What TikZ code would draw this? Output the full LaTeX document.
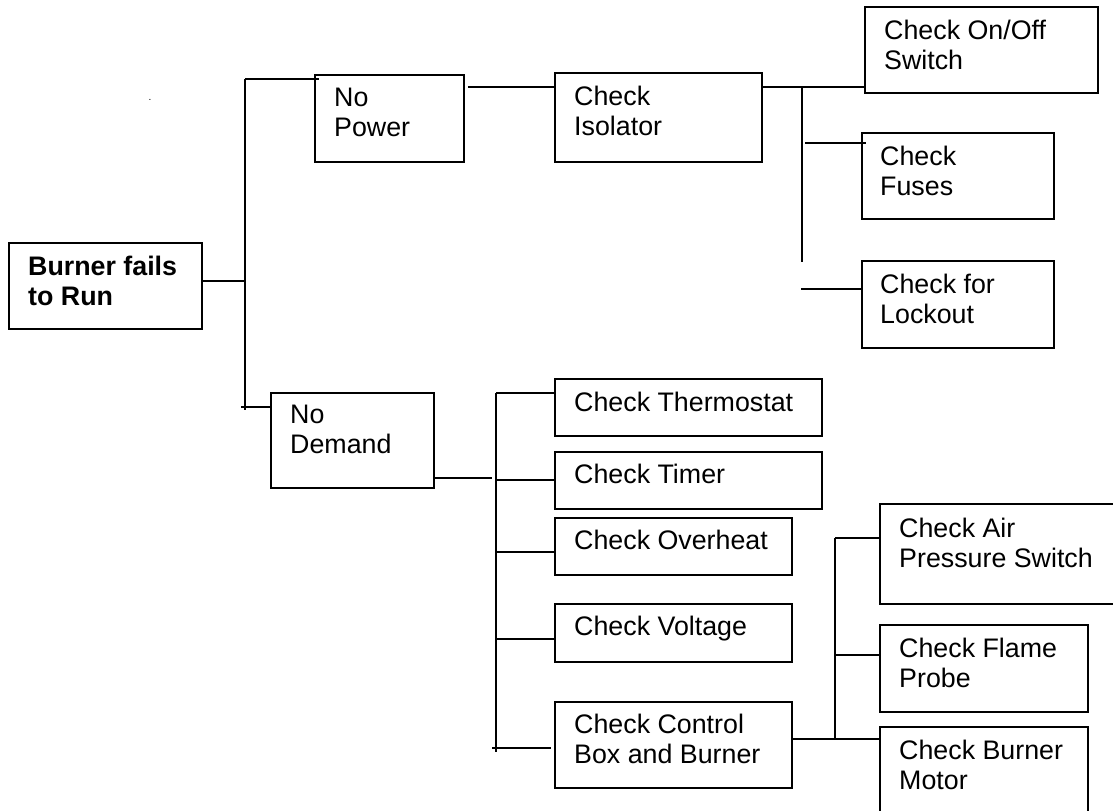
\documentclass[tikz,border=0pt]{standalone}
\usepackage{fontspec}
\setmainfont{Liberation Sans}
\usetikzlibrary{calc}
\begin{document}
\begin{tikzpicture}[x=1bp,y=-1bp,
  box/.style={draw, line width=1.8bp, rectangle, inner sep=0pt, anchor=north west},
  conn/.style={line width=1.6bp},
  txt/.style={font=\fontsize{26.8bp}{30.5bp}\selectfont, align=left, inner sep=0pt, anchor=north west}]
\useasboundingbox (0,0) rectangle (1113,811);

% boxes
\node[box, minimum width=193bp, minimum height=86bp] (burner)   at (8,242)   {};
\node[box, minimum width=149bp, minimum height=87bp] (nopower)  at (314,74)  {};
\node[box, minimum width=207bp, minimum height=89bp] (iso)      at (554,72)  {};
\node[box, minimum width=233bp, minimum height=86bp] (onoff)    at (864,6)   {};
\node[box, minimum width=192bp, minimum height=86bp] (fuses)    at (861,132) {};
\node[box, minimum width=192bp, minimum height=87bp] (lockout)  at (861,260) {};
\node[box, minimum width=163bp, minimum height=95bp] (nodemand) at (270,392) {};
\node[box, minimum width=267bp, minimum height=57bp] (thermo)   at (554,378) {};
\node[box, minimum width=267bp, minimum height=57bp] (timer)    at (554,451) {};
\node[box, minimum width=237bp, minimum height=57bp] (overheat) at (554,517) {};
\node[box, minimum width=237bp, minimum height=58bp] (voltage)  at (554,603) {};
\node[box, minimum width=237bp, minimum height=86bp] (control)  at (554,701) {};
\node[box, minimum width=240bp, minimum height=100bp] (air)     at (879,503) {};
\node[box, minimum width=208bp, minimum height=87bp] (flame)    at (879,624) {};
\node[box, minimum width=208bp, minimum height=100bp] (motor)   at (879,726) {};

% texts
\node[txt] (burnerT)   at (28,255.5)  {\bfseries Burner fails\\\bfseries to Run};
\node[txt] (nopowerT)  at (334,87.5)  {No\\Power};
\node[txt] (isoT)      at (574,85.5)  {Check\\Isolator};
\node[txt] (onoffT)    at (884,19.5)  {Check On/Off\\Switch};
\node[txt] (fusesT)    at (880,145.5) {Check\\Fuses};
\node[txt] (lockoutT)  at (880,273.5) {Check for\\Lockout};
\node[txt] (nodemandT) at (290,404.5) {No\\Demand};
\node[txt] (thermoT)   at (574,391.5) {Check Thermostat};
\node[txt] (timerT)    at (574,463.5) {Check Timer};
\node[txt] (overheatT) at (574,529.5) {Check Overheat};
\node[txt] (voltageT)  at (574,615.5) {Check Voltage};
\node[txt] (controlT)  at (574,713.5) {Check Control\\Box and Burner};
\node[txt] (airT)      at (899,517.5) {Check Air\\Pressure Switch};
\node[txt] (flameT)    at (899,637.5) {Check Flame\\Probe};
\node[txt] (motorT)    at (899,739.5) {Check Burner\\Motor};
\node[font=\fontsize{10bp}{12bp}\selectfont, inner sep=0pt, anchor=base] (dot) at (150,101) {.};

% junctions
\coordinate (J1t) at (245,79);  \coordinate (J1b) at (245,410);
\coordinate (J2t) at (802,87);  \coordinate (J2b) at (802,262);
\coordinate (J3t) at (496,393); \coordinate (J3b) at (496,752);
\coordinate (J4t) at (835,538); \coordinate (J4b) at (835,739);

% first level
\draw[conn] (burner.east |- 0,281) -- (J1t |- 0,281);
\draw[conn] (J1t) -- (J1b);
\draw[conn] (J1t) -- ($(nopower.west |- J1t)+(5,0)$);
\draw[conn] ($(J1b |- 0,407)+(-4,0)$) -- (nodemand.west |- 0,407);

% no power branch
\draw[conn] ($(nopower.east |- 0,87)+(3,0)$) -- (iso.west |- 0,87);
\draw[conn] (iso.east |- J2t) -- (onoff.west |- J2t);
\draw[conn] (J2t) -- (J2b);
\draw[conn] ($(J2t |- 0,143)+(3,0)$) -- ($(fuses.west |- 0,143)+(5,0)$);
\draw[conn] ($(J2t |- 0,289)+(-1,0)$) -- (lockout.west |- 0,289);

% no demand branch
\draw[conn] (nodemand.east |- 0,478) -- ($(J3t |- 0,478)+(-4,0)$);
\draw[conn] (J3t) -- (J3b);
\draw[conn] (J3t) -- (thermo.west |- J3t);
\draw[conn] (J3t |- 0,480) -- (timer.west |- 0,480);
\draw[conn] (J3t |- 0,552) -- (overheat.west |- 0,552);
\draw[conn] (J3t |- 0,639) -- (voltage.west |- 0,639);
\draw[conn] ($(J3t |- 0,748)+(-4,0)$) -- ($(control.west |- 0,748)+(-3,0)$);

% control box branch
\draw[conn] (control.east |- J4b) -- (motor.west |- J4b);
\draw[conn] (J4t) -- (J4b);
\draw[conn] (J4t) -- (air.west |- J4t);
\draw[conn] (J4t |- 0,655) -- (flame.west |- 0,655);
\end{tikzpicture}
\end{document}
